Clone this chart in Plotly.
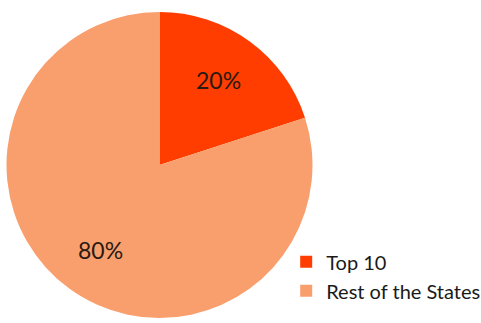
import math
import plotly.graph_objects as go

categories = ["Top 10", "Rest of the States"]
values = [20, 80]
colors = ["#FF3D00", "#F99F6D"]

W, H = 481, 323
cx, cy_top, r = 159.5, 165, 153
cy = H - cy_top

fig = go.Figure(go.Pie(
    labels=categories,
    values=values,
    sort=False,
    direction="clockwise",
    rotation=0,
    marker=dict(colors=colors, line=dict(width=0)),
    textinfo="none",
    hoverinfo="skip",
    domain=dict(x=[(cx - r) / W, (cx + r) / W], y=[(cy - r) / H, (cy + r) / H]),
))

# percentage labels placed near each slice's mid-angle
total = sum(values)
start = 0.0
for v in values:
    frac = v / total
    mid = (start + frac / 2) * 2 * math.pi  # clockwise from 12 o'clock
    start += frac
    rr = 0.66 * r
    px = cx + rr * math.sin(mid)
    py = cy + rr * 1.04 * math.cos(mid)
    fig.add_annotation(
        x=px / W, y=py / H, xref="paper", yref="paper",
        xanchor="center", yanchor="middle",
        text=f"{round(frac * 100)}%", showarrow=False,
        font=dict(family="Lato", size=23, color="#2a1a12"),
    )

fig.update_layout(
    width=W, height=H,
    margin=dict(l=0, r=0, t=0, b=0, autoexpand=False),
    paper_bgcolor="white",
    plot_bgcolor="white",
    showlegend=True,
    legend=dict(
        x=0.595, y=0.25, xanchor="left", yanchor="top",
        font=dict(family="Lato", size=20, color="#1a1a1a"),
        itemwidth=30,
        bgcolor="rgba(0,0,0,0)",
    ),
)

fig.write_html("out.html")
